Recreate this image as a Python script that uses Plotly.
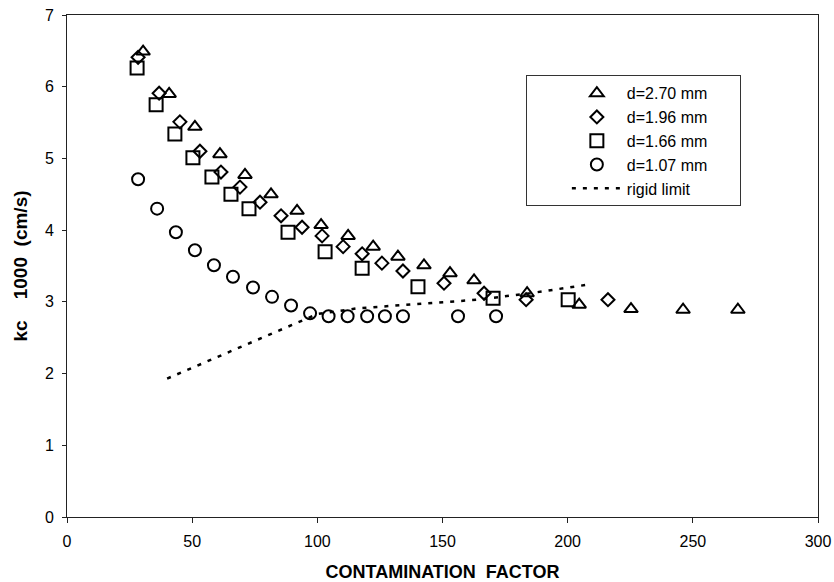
import plotly.graph_objects as go

# d = 2.70 mm (triangles)
x_tri = [30.4, 40.8, 51.1, 61.1, 71.1, 81.5, 91.9, 101.5, 112.3, 122.3, 132.2, 142.6, 153.0, 162.6, 183.8, 204.6, 225.3, 246.1, 268.0]
y_tri = [6.49, 5.90, 5.44, 5.06, 4.77, 4.50, 4.27, 4.07, 3.92, 3.77, 3.63, 3.51, 3.40, 3.30, 3.12, 2.96, 2.90, 2.89, 2.89]

# d = 1.96 mm (diamonds)
x_dia = [28.4, 36.8, 45.1, 53.1, 61.5, 69.1, 77.1, 85.5, 93.9, 101.9, 110.3, 117.9, 125.8, 134.2, 150.6, 166.6, 183.4, 216.1]
y_dia = [6.41, 5.91, 5.51, 5.10, 4.81, 4.60, 4.39, 4.20, 4.04, 3.92, 3.77, 3.67, 3.54, 3.43, 3.26, 3.12, 3.03, 3.03]

# d = 1.66 mm (squares)
x_sq = [28.0, 35.6, 43.1, 50.3, 57.9, 65.5, 72.7, 88.3, 103.1, 117.9, 140.2, 170.2, 200.2]
y_sq = [6.26, 5.75, 5.34, 5.01, 4.74, 4.50, 4.30, 3.97, 3.70, 3.47, 3.21, 3.05, 3.03]

# d = 1.07 mm (circles)
x_cir = [28.4, 36.0, 43.5, 51.1, 58.7, 66.3, 74.3, 81.9, 89.5, 97.1, 104.5, 112.1, 119.9, 127.0, 134.2, 156.2, 171.4]
y_cir = [4.71, 4.30, 3.97, 3.72, 3.51, 3.35, 3.20, 3.07, 2.95, 2.84, 2.80, 2.80, 2.80, 2.80, 2.80, 2.80, 2.80]

# rigid limit
x_rig = [40, 60, 80, 100, 116, 140, 164, 185, 208]
y_rig = [1.93, 2.23, 2.53, 2.83, 2.91, 2.97, 3.03, 3.12, 3.24]

names = ["d=2.70 mm", "d=1.96 mm", "d=1.66 mm", "d=1.07 mm", "rigid limit"]
x_ticks = [0, 50, 100, 150, 200, 250, 300]
y_ticks = [0, 1, 2, 3, 4, 5, 6, 7]

FONT = "Liberation Sans"
PAD = "\u00a0" * 6  # right padding inside the legend box
fig = go.Figure()

def add_marker(x, y, name, symbol, size):
    fig.add_trace(go.Scatter(
        x=x, y=y, mode="markers", name=name,
        marker=dict(symbol=symbol, size=size, color="black",
                    line=dict(color="black", width=2)),
    ))

add_marker(x_tri, y_tri, names[0] + PAD, "triangle-up-open", 12)
add_marker(x_dia, y_dia, names[1], "diamond-open", 10)
add_marker(x_sq, y_sq, names[2], "square-open", 13)
add_marker(x_cir, y_cir, names[3], "circle-open", 12)

fig.add_trace(go.Scatter(
    x=x_rig, y=y_rig, mode="lines", name=names[4],
    line=dict(color="black", width=2.5, dash="4px,7px"),
))

fig.update_layout(
    width=834, height=582,
    margin=dict(l=67, r=16, t=15, b=65, autoexpand=False),
    paper_bgcolor="white", plot_bgcolor="white",
    font=dict(family=FONT, size=16, color="black"),
    showlegend=True,
    legend=dict(
        x=0.611, y=0.88, xanchor="left", yanchor="top",
        bordercolor="#333", borderwidth=1, bgcolor="white",
        font=dict(family=FONT, size=16),
        tracegroupgap=0, itemwidth=50, indentation=40,
    ),
    xaxis=dict(
        range=[0, 300], tickvals=x_ticks, ticktext=[str(v) for v in x_ticks],
        showgrid=False, zeroline=False, automargin=False,
        showline=True, linecolor="#222", linewidth=1, mirror=True,
        ticks="outside", ticklen=5, tickcolor="#222",
        ticklabelstandoff=5,
        tickfont=dict(family=FONT, size=16),
        title=dict(text="<b>CONTAMINATION  FACTOR</b>", font=dict(family=FONT, size=18), standoff=19),
    ),
    yaxis=dict(
        range=[0, 7], tickvals=y_ticks, ticktext=[str(v) for v in y_ticks],
        showgrid=False, zeroline=False, automargin=False,
        showline=True, linecolor="#222", linewidth=1, mirror=True,
        ticks="outside", ticklen=4, tickcolor="#222",
        ticklabelstandoff=5,
        tickfont=dict(family=FONT, size=16),
        title=dict(text="<b>kc    1000  (cm/s)</b>", font=dict(family=FONT, size=19), standoff=12),
    ),
)

fig.write_html("out.html")
